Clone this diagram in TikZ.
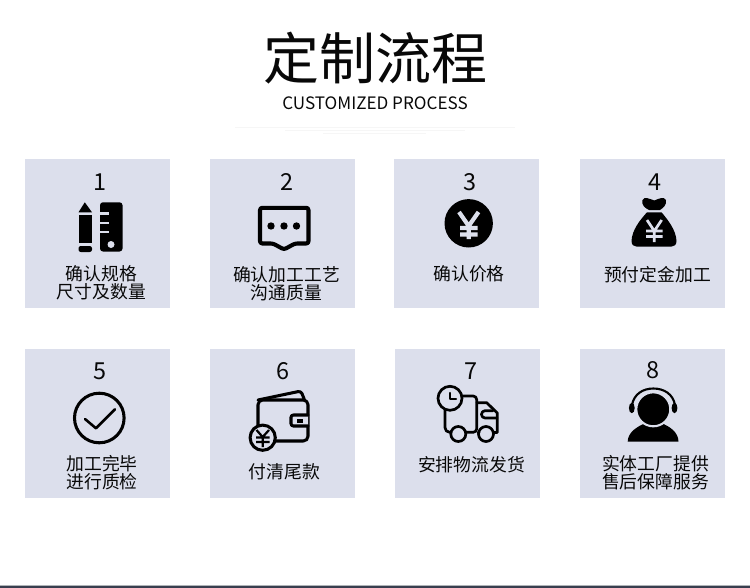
\documentclass[tikz,border=0pt]{standalone}
\usepackage{fontspec}
\setmainfont{Noto Sans CJK SC}
\usepackage{xcolor}
\usetikzlibrary{calc,positioning}
\definecolor{cardBlue}{RGB}{220,223,236}
\definecolor{barDark}{RGB}{56,62,78}
\definecolor{barEdge}{RGB}{176,180,184}
\definecolor{inkBlack}{RGB}{8,8,8}
\definecolor{faintGray}{RGB}{246,246,246}
\tikzset{
  cardbox/.style={fill=cardBlue, draw=none, minimum width=3.71cm*1.1727, minimum height=3.81cm*1.1727, inner sep=0pt, outer sep=0pt, anchor=north west},
  cardnum/.style={text=inkBlack, font=\fontsize{20}{22}\selectfont, inner sep=0pt},
  cardtext/.style={text=inkBlack, font=\fontsize{15.2}{15.4}\selectfont, align=center, inner sep=0pt},
  iconline/.style={draw=black, line width=2.6pt, line join=round, line cap=round},
  yenline/.style={draw=cardBlue, line width=2.9pt}
}
\begin{document}
\begin{tikzpicture}[x=0.03cm,y=-0.03cm]
\useasboundingbox (0,0) rectangle (750,588);
\fill[barEdge] (0,585) rectangle (750,586);
\fill[barDark] (0,586) rectangle (750,588);
\node[text=inkBlack, font=\fontsize{47.8}{50}\selectfont, inner sep=0pt] (title) at (375.5,58.5) {定制流程};
\node[text=inkBlack, font=\fontsize{14.6}{16}\selectfont, inner sep=0pt] (subtitle) at (375,103) {CUSTOMIZED PROCESS};
% faint small print under the heading
\draw[faintGray, line width=0.8pt] (235,127)--(515,127);
\draw[faintGray, line width=0.8pt] (285,130)--(465,130);
\draw[faintGray, line width=0.8pt] (323,133)--(426,133);
% cards
\foreach \n/\cx/\cy in {1/25/159,2/210/159,3/394/159,4/580/159,5/25/349,6/210/349,7/395/349,8/580/349}
  \node[cardbox] (card\n) at (\cx,\cy) {};
\node[cardnum] (num1) at (100.5,182) {1};
\node[cardnum] (num2) at (286.5,182) {2};
\node[cardnum] (num3) at (469.5,182) {3};
\node[cardnum] (num4) at (654.5,182) {4};
\node[cardnum] (num5) at (100.5,371) {5};
\node[cardnum] (num6) at (282.5,371) {6};
\node[cardnum] (num7) at (470.5,371) {7};
\node[cardnum] (num8) at (652.5,370) {8};
\node[cardtext] (text1) at (101.5,283) {确认规格\\尺寸及数量};
\node[cardtext] (text2) at (286.5,284) {确认加工工艺\\沟通质量};
\node[cardtext] (text3) at (469,274) {确认价格};
\node[cardtext] (text4) at (657.5,275) {预付定金加工};
\node[cardtext] (text5) at (102,473) {加工完毕\\进行质检};
\node[cardtext] (text6) at (284.5,472) {付清尾款};
\node[cardtext] (text7) at (471.5,465) {安排物流发货};
\node[cardtext] (text8) at (655.5,473) {实体工厂提供\\售后保障服务};
% pencil and ruler
\fill[black] (84.8,202.3)--(92,212.3)--(78.5,212.3)--cycle;
\fill[black] (78.5,215) rectangle (92,243);
\fill[black, rounded corners=2pt] (78.5,246)--(92,246)--(92,252)--(78.5,252)--cycle;
\fill[black, rounded corners=2.5pt] (100,202.3) rectangle (122.5,251.5);
\draw[cardBlue, line width=1.9pt] (99,213.5)--(109,213.5) (99,222.7)--(109,222.7) (99,232)--(109,232);
\fill[cardBlue] (111,244.5) circle (3.5);
% speech bubble
\draw[iconline, line width=3.5pt, rounded corners=2pt] (260,207.8)--(308.5,207.8)--(308.5,243.5)--(295,243.5)--(284,249.5)--(273,243.5)--(260,243.5)--cycle;
\fill[black] (271,226) circle (3.7) (284,226) circle (3.7) (296.5,226) circle (3.7);
% coin
\fill[black] (468.7,223.3) circle (24.2);
\draw[yenline, line width=3.6pt] (459,212)--(468.7,226)--(478.5,212) (468.7,225)--(468.7,239) (460,228)--(477.5,228) (460,234.5)--(477.5,234.5);
% money bag
\fill[black] (642.5,200) .. controls (644,196) and (650,199) .. (654.3,200.5) .. controls (658,199) and (664,196) .. (666,200) .. controls (667,205) and (663,208) .. (660,210) -- (649,210) .. controls (645,208) and (641,205) .. (642.5,200) -- cycle;
\fill[black] (647,212.3) -- (661.5,212.3) .. controls (668,220) and (676,230) .. (676.5,241) .. controls (676.5,245) and (674,246.7) .. (671,246.7) -- (637,246.7) .. controls (634,246.7) and (631.5,245) .. (631.5,241) .. controls (632,230) and (640,220) .. (647,212.3) -- cycle;
\draw[yenline, line width=2.3pt] (647,220)--(654.3,231)--(661.7,220) (654.3,230)--(654.3,242) (646,231)--(662.5,231) (646,236.5)--(662.5,236.5);
% tick in a ring
\draw[iconline] (99.3,418) circle (24.8);
\draw[iconline, line width=2.2pt] (85,419)--(96,428.3)--(115,409.3);
% wallet with coin
\draw[iconline, rounded corners=4pt] (258,400)--(258,441)--(308,441)--(308,400)--cycle;
\draw[iconline, rounded corners=2.5pt] (258,400)--(301,391)--(304.5,400);
\draw[iconline, rounded corners=2pt, fill=cardBlue] (308,415)--(291,415)--(291,426)--(308,426);
\fill[black] (296.5,418.5) rectangle (302.5,422.5);
\draw[iconline, fill=cardBlue] (262.7,437.7) circle (12.6);
\draw[black, line width=1.9pt] (256.5,430)--(262.7,437)--(269,430) (262.7,436)--(262.7,447) (256,437.5)--(269.5,437.5) (256,442)--(269.5,442);
% delivery truck
\draw[iconline, line width=2.3pt, rounded corners=3pt] (461,396)--(476.7,396)--(476.7,432.3)--(466,432.3);
\draw[iconline, line width=2.3pt, rounded corners=4pt] (445,408)--(445,432.3)--(451,432.3);
\draw[iconline, line width=2.3pt] (477,402.7)--(486.7,402.7)--(497.3,413)--(497.3,432.5)--(493.5,432.5);
\draw[iconline, line width=2.3pt] (478,432.3)--(479,432.3);
\draw[iconline, line width=2.3pt, rounded corners=3pt] (493,410.7)--(481.5,410.7)--(481.5,418)--(497,418);
\draw[iconline, line width=2.3pt] (458.3,434) circle (7.5);
\draw[iconline, line width=2.3pt] (486,434) circle (7.5);
\draw[iconline, line width=2.3pt, fill=cardBlue] (450,398.3) circle (12);
\draw[iconline, line width=1.9pt] (450,393)--(450,399)--(456,399);
% headset agent
\fill[black] (627.7,441.7) .. controls (627.7,432) and (638,426) .. (646,423) -- (661,423) .. controls (669,426) and (678.5,432) .. (678.5,441.7) -- cycle;
\draw[cardBlue, line width=1.8pt, fill=black] (653.3,409.3) circle (17);
\draw[black, line width=1.8pt] (632,405) .. controls (634,394) and (643,388.5) .. (653.3,388.5) .. controls (664,388.5) and (673,394) .. (675,405);
\fill[black] (631.8,408) ellipse (2.9 and 5.2);
\fill[black] (674.5,408) ellipse (2.9 and 5.2);
\end{tikzpicture}
\end{document}
